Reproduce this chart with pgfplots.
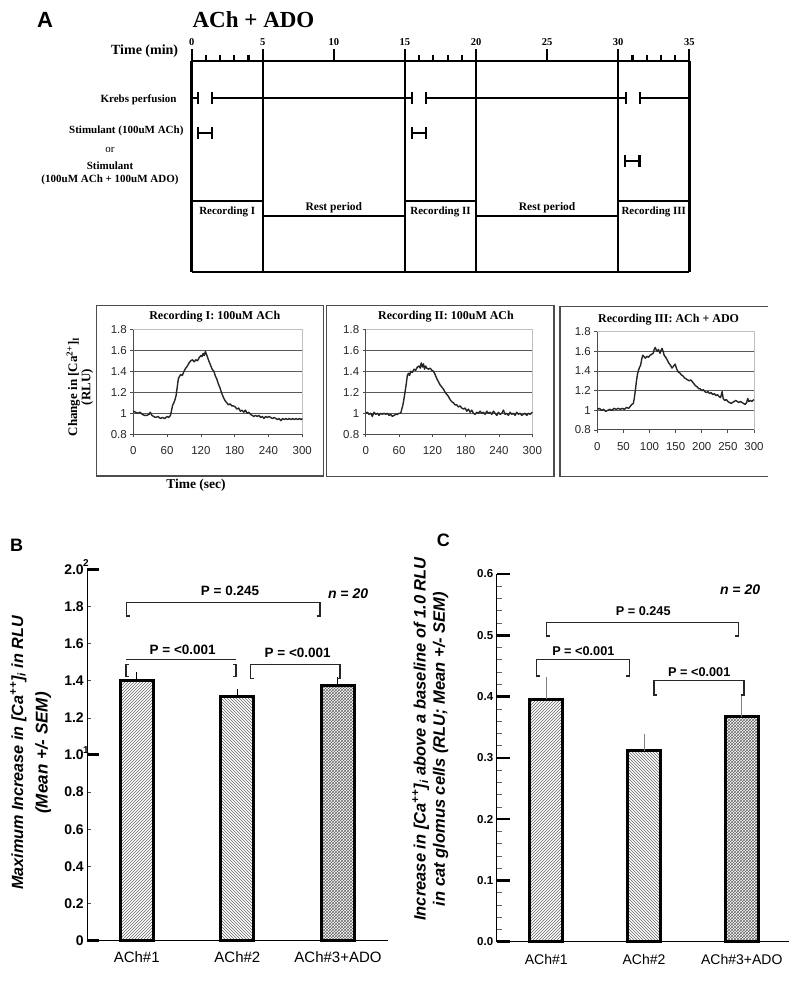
\documentclass[border=0pt]{standalone}
\usepackage{pgfplots}
\pgfplotsset{compat=1.18}
\usetikzlibrary{patterns}
\usepackage{fontspec}
\setmainfont{Liberation Sans}
\newfontfamily\tnr{Liberation Serif}
\newcommand\fs[1]{\fontsize{#1}{#1}\selectfont}

\pgfplotstableread{
t v
0 1.02
4 1.01
8 1.00
12 1.01
16 0.99
20 0.98
24 0.98
28 0.99
30 1.01
33 0.98
36 0.97
40 0.96
44 0.97
48 0.95
52 0.96
56 0.95
60 0.97
63 0.96
66 0.98
68 1.03
70 1.08
72 1.10
74 1.13
76 1.17
78 1.25
80 1.33
82 1.35
84 1.37
87 1.36
90 1.40
93 1.43
96 1.45
99 1.48
102 1.50
105 1.51
108 1.49
111 1.51
114 1.50
117 1.53
120 1.55
122 1.54
124 1.57
126 1.55
128 1.59
130 1.56
132 1.53
134 1.50
137 1.46
140 1.42
143 1.40
146 1.35
148 1.33
151 1.28
154 1.24
157 1.19
160 1.15
163 1.12
166 1.10
169 1.08
172 1.09
175 1.07
178 1.07
181 1.06
184 1.04
187 1.05
190 1.02
193 1.03
196 1.01
199 1.03
202 1.00
205 1.01
208 0.99
211 0.98
214 0.97
217 0.98
220 0.97
223 0.98
226 0.96
229 0.97
232 0.95
235 0.97
238 0.96
241 0.97
244 0.96
247 0.95
250 0.96
253 0.95
256 0.94
259 0.95
262 0.93
265 0.95
268 0.94
271 0.95
274 0.94
277 0.95
280 0.94
283 0.95
286 0.94
289 0.95
292 0.94
295 0.95
298 0.94
300 0.95
}\traceA

\pgfplotstableread{
t v
0 1.00
3 1.01
6 0.99
9 1.00
12 0.97
15 1.01
18 0.99
21 1.00
24 0.98
27 1.00
30 0.99
33 1.00
36 0.99
39 1.00
42 0.98
45 0.99
48 0.97
51 0.98
54 0.99
57 0.99
60 1.00
63 1.00
65 1.04
67 1.08
69 1.14
71 1.21
73 1.28
75 1.36
77 1.38
79 1.36
81 1.40
84 1.39
87 1.42
90 1.41
93 1.44
96 1.45
98 1.43
100 1.48
102 1.44
104 1.47
106 1.42
108 1.45
110 1.43
113 1.42
116 1.43
119 1.41
122 1.40
125 1.37
128 1.33
131 1.30
134 1.27
137 1.25
140 1.23
143 1.20
146 1.18
149 1.16
152 1.13
155 1.11
158 1.10
161 1.08
164 1.08
167 1.06
170 1.07
173 1.05
176 1.04
179 1.05
182 1.02
185 1.04
188 1.01
191 1.03
194 1.00
197 0.99
200 1.01
203 1.00
206 1.02
209 1.00
212 1.01
215 0.99
218 1.02
221 1.00
224 1.01
227 0.99
230 1.02
233 1.00
236 0.98
239 1.01
242 0.99
245 1.00
248 1.03
251 0.99
254 1.00
257 0.98
260 1.01
263 0.99
266 1.00
269 0.98
272 1.01
275 0.99
278 1.00
281 0.98
284 0.99
287 1.00
290 0.98
293 1.00
296 0.99
300 1.01
}\traceB

\pgfplotstableread{
t v
0 1.01
4 1.02
8 1.00
12 1.01
16 0.99
20 1.00
24 1.01
28 1.00
32 1.02
36 1.01
40 1.02
44 1.01
48 1.02
52 1.01
56 1.03
60 1.02
63 1.04
66 1.06
69 1.07
71 1.13
73 1.21
75 1.30
77 1.37
79 1.41
81 1.44
83 1.46
85 1.52
87 1.56
89 1.55
92 1.53
95 1.55
98 1.54
101 1.56
104 1.57
107 1.58
109 1.62
111 1.64
113 1.61
115 1.60
117 1.62
120 1.58
122 1.61
124 1.63
126 1.60
128 1.56
131 1.54
134 1.51
137 1.48
140 1.46
143 1.43
146 1.45
149 1.47
152 1.42
155 1.39
158 1.38
161 1.36
164 1.35
167 1.33
170 1.32
173 1.31
176 1.30
179 1.31
182 1.29
185 1.27
188 1.25
191 1.24
194 1.22
197 1.22
200 1.20
203 1.21
206 1.19
209 1.18
212 1.19
215 1.17
218 1.18
221 1.16
224 1.17
227 1.15
230 1.16
233 1.14
236 1.13
239 1.19
241 1.12
244 1.10
247 1.11
250 1.09
253 1.08
256 1.07
259 1.08
262 1.09
265 1.10
268 1.09
271 1.08
274 1.09
277 1.08
280 1.07
283 1.06
286 1.08
288 1.12
290 1.09
293 1.10
296 1.09
300 1.11
}\traceC

\pgfplotsset{
 rec/.style={scale only axis, xmin=0, xmax=300, ymin=0.8, ymax=1.8, clip=false,
  axis lines*=left, axis line style={black!70, line width=1pt},
  ytick={0.8,1,1.2,1.4,1.6,1.8}, yticklabels={0.8,1,1.2,1.4,1.6,1.8},
  tick align=outside, major tick length=3pt, tick style={black!70, line width=0.8pt},
  extra y ticks={1,1.2,1.4,1.6}, extra y tick labels={},
  extra y tick style={grid=major, major tick length=0pt},
  grid style={black!65, line width=1pt},
  ticklabel style={font=\fs{11.5}, text=black!85},
  xticklabel style={yshift=-6pt},
  /pgf/number format/assume math mode=true,
  title style={font=\tnr\bfseries\fs{12}, yshift=-2pt},
 },
 trace/.style={black!85, line width=1.4pt, line join=round, no marks},
}

\begin{document}
\begin{tikzpicture}[x=1pt,y=1pt]
\path[use as bounding box] (0,0) rectangle (800,981);

% ---------------- Panel A : protocol timeline ----------------
\node[font=\bfseries\fs{22}] at (45,961) {A};
\node[font=\tnr\bfseries\fs{23}] at (253.5,961) {ACh + ADO};
\node[font=\tnr\bfseries\fs{14}, anchor=east] at (181.7,930.3) {Time (min)};
\node[font=\tnr\bfseries\fs{11}, anchor=east] at (180,881) {Krebs perfusion};
\node[font=\tnr\bfseries\fs{11}, anchor=east] at (187,850) {Stimulant (100uM ACh)};
\node[font=\tnr\fs{11}] at (110,831) {or};
\node[font=\tnr\bfseries\fs{11}] at (110,815.3) {Stimulant};
\node[font=\tnr\bfseries\fs{11}] at (110,801) {(100uM ACh + 100uM ADO)};

\begin{axis}[at={(191.7pt,709pt)}, anchor=south west, scale only axis,
  width=497.6pt, height=211pt, xmin=0, xmax=35, ymin=0, ymax=211, clip=false,
  axis x line*=top, axis y line=none, axis line style={line width=2.5pt},
  xtick={0,5,10,15,20,25,30,35}, minor xtick={1,2,3,4,16,17,18,19,31,32,33,34},
  tick align=outside, major tick length=12pt, minor tick length=6pt,
  every tick/.style={black, line width=2.2pt},
  xticklabel style={font=\tnr\bfseries\fs{10.5}},
  /pgf/number format/assume math mode=true]
 \draw[line width=2.5pt] (axis cs:0,0) -- (axis cs:0,211);
 \draw[line width=2.5pt] (axis cs:5,0) -- (axis cs:5,211);
 \draw[line width=2.5pt] (axis cs:15,0) -- (axis cs:15,211);
 \draw[line width=2.5pt] (axis cs:20,0) -- (axis cs:20,211);
 \draw[line width=2.5pt] (axis cs:30,0) -- (axis cs:30,211);
 \draw[line width=2.5pt] (axis cs:35,0) -- (axis cs:35,211);
 \draw[line width=2.5pt] (axis cs:0,0) -- (axis cs:35,0);
 % Krebs perfusion
 \draw[line width=2pt] (axis cs:0,174.3) -- (axis cs:0.47,174.3);
 \draw[line width=2pt] (axis cs:1.45,174.3) -- (axis cs:15.47,174.3);
 \draw[line width=2pt] (axis cs:16.48,174.3) -- (axis cs:30.52,174.3);
 \draw[line width=2pt] (axis cs:31.53,174.3) -- (axis cs:35,174.3);
 \draw[line width=2.2pt] (axis cs:0.47,168.3) -- (axis cs:0.47,180.3);
 \draw[line width=2.2pt] (axis cs:1.45,168.3) -- (axis cs:1.45,180.3);
 \draw[line width=2.2pt] (axis cs:15.47,168.3) -- (axis cs:15.47,180.3);
 \draw[line width=2.2pt] (axis cs:16.48,168.3) -- (axis cs:16.48,180.3);
 \draw[line width=2.2pt] (axis cs:30.52,168.3) -- (axis cs:30.52,180.3);
 \draw[line width=2.2pt] (axis cs:31.53,168.3) -- (axis cs:31.53,180.3);
 % stimulant ACh
 \draw[line width=2.2pt] (axis cs:0.47,132.7) -- (axis cs:0.47,144.7) (axis cs:0.47,138.7) -- (axis cs:1.45,138.7) (axis cs:1.45,132.7) -- (axis cs:1.45,144.7);
 \draw[line width=2.2pt] (axis cs:15.5,132.7) -- (axis cs:15.5,144.7) (axis cs:15.5,138.7) -- (axis cs:16.5,138.7) (axis cs:16.5,132.7) -- (axis cs:16.5,144.7);
 % stimulant ACh + ADO
 \draw[line width=2.2pt] (axis cs:30.5,105) -- (axis cs:30.5,117) (axis cs:30.5,111) -- (axis cs:31.5,111) (axis cs:31.5,105) -- (axis cs:31.5,117);
 % recording / rest
 \draw[line width=1.8pt] (axis cs:0,71) -- (axis cs:5,71);
 \draw[line width=1.8pt] (axis cs:15,71) -- (axis cs:20,71);
 \draw[line width=1.8pt] (axis cs:30,71) -- (axis cs:35,71);
 \draw[line width=1.8pt] (axis cs:5,56) -- (axis cs:15,56);
 \draw[line width=1.8pt] (axis cs:20,56) -- (axis cs:30,56);
 \node[font=\tnr\bfseries\fs{11}] at (axis cs:2.5,60) {Recording I};
 \node[font=\tnr\bfseries\fs{11}] at (axis cs:17.5,60) {Recording II};
 \node[font=\tnr\bfseries\fs{11}] at (axis cs:32.5,60) {Recording III};
 \node[font=\tnr\bfseries\fs{11.5}] at (axis cs:10,64.7) {Rest period};
 \node[font=\tnr\bfseries\fs{11.5}] at (axis cs:25,64.7) {Rest period};
\end{axis}

% ---------------- Recording traces ----------------
\draw[black!70, line width=1.5pt] (96.7,505) rectangle (323.3,675.3);
\draw[black!70, line width=1.5pt] (326.7,504.3) rectangle (554,675.3);
\draw[black!70, line width=1.5pt] (768,674.3) -- (560,674.3) -- (560,504.3) -- (768,504.3);
\node[font=\tnr\bfseries\fs{13}, rotate=90] at (73.3,594) {Change in [Ca\textsuperscript{2+}]\textsubscript{I}};
\node[font=\tnr\bfseries\fs{13}, rotate=90] at (87.3,594) {(RLU)};
\node[font=\tnr\bfseries\fs{13.5}] at (196,496) {Time (sec)};

\begin{axis}[rec, at={(133.3pt,546.7pt)}, anchor=south west, width=169pt, height=105pt,
  xtick={0,60,120,180,240,300}, title={Recording I: 100uM ACh}, title style={xshift=-3pt}]
 \draw[black!25, line width=0.8pt] (rel axis cs:0,1) -- (rel axis cs:1,1) -- (rel axis cs:1,0);
 \addplot[trace] table[x=t,y=v] {\traceA};
\end{axis}

\begin{axis}[rec, at={(365.7pt,546.7pt)}, anchor=south west, width=166.6pt, height=105pt,
  xtick={0,60,120,180,240,300}, title={Recording II: 100uM ACh}, title style={xshift=-3pt}]
 \draw[black!25, line width=0.8pt] (rel axis cs:0,1) -- (rel axis cs:1,1) -- (rel axis cs:1,0);
 \addplot[trace] table[x=t,y=v] {\traceB};
\end{axis}

\begin{axis}[rec, at={(597.3pt,551pt)}, anchor=south west, width=156.7pt, height=98.3pt,
  xtick={0,50,100,150,200,250,300}, title={Recording III: ACh + ADO}, title style={xshift=-7pt, yshift=-1pt}]
 \draw[black!25, line width=0.8pt] (rel axis cs:0,1) -- (rel axis cs:1,1) -- (rel axis cs:1,0);
 \addplot[trace] table[x=t,y=v] {\traceC};
\end{axis}

% ---------------- Panel B ----------------
\node[font=\bfseries\fs{18}] at (16.7,436) {B};
\node[font=\bfseries\itshape\fs{16.2}, rotate=90] at (18.3,228) {Maximum Increase in [Ca\textsuperscript{++}]\textsubscript{i} in RLU};
\node[font=\bfseries\itshape\fs{17}, rotate=90] at (43.3,228) {(Mean +/- SEM)};
\node[font=\bfseries\fs{10}] at (86,418) {2};
\node[font=\bfseries\fs{10}] at (86,231) {1};

\begin{axis}[at={(87.3pt,40.3pt)}, anchor=south west, scale only axis,
  width=301pt, height=371.4pt, xmin=-0.491, xmax=2.5, ymin=0, ymax=2, clip=false,
  axis lines*=left, axis line style={black, line width=0.8pt},
  xtick={0,1,2}, xticklabels={ACh\#1,ACh\#2,ACh\#3+ADO}, xtick style={draw=none},
  xticklabel style={font=\fs{15}, yshift=-7pt},
  ytick={0,0.2,0.4,0.6,0.8,1.0,1.2,1.4,1.6,1.8,2.0},
  yticklabels={0,0.2,0.4,0.6,0.8,1.0,1.2,1.4,1.6,1.8,2.0},
  yticklabel style={font=\bfseries\fs{14}},
  tick align=inside, major tick length=4pt, ytick style={black!70, line width=0.6pt},
  extra y ticks={0,1,2}, extra y tick labels={},
  extra y tick style={major tick length=12pt, ytick style={black, line width=3pt}},
  /pgf/number format/assume math mode=true]
 \addplot[ybar, bar width=33pt, bar shift=0pt, draw=black, line width=3pt,
   pattern=north east lines, pattern color=black!60,
   error bars/.cd, y dir=plus, y explicit,
   error bar style={black, line width=1pt}, error mark options={mark size=3pt, line width=1pt}]
   coordinates {(0,1.400) +- (0,0.031)};
 \addplot[ybar, bar width=33pt, bar shift=0pt, draw=black, line width=3pt,
   pattern=north west lines, pattern color=black!60,
   error bars/.cd, y dir=plus, y explicit,
   error bar style={black, line width=1pt}, error mark options={mark size=3pt, line width=1pt}]
   coordinates {(1,1.314) +- (0,0.024)};
 \addplot[ybar, bar width=33pt, bar shift=0pt, draw=black, line width=3pt,
   pattern=crosshatch, pattern color=black!60,
   error bars/.cd, y dir=plus, y explicit,
   error bar style={black, line width=1pt}, error mark options={mark size=3pt, line width=1pt}]
   coordinates {(2,1.372) +- (0,0.030)};
 % brackets
 \draw[black!85, line width=1.3pt] (axis cs:-0.07,1.748) -- (axis cs:-0.099,1.748) -- (axis cs:-0.099,1.820) -- (axis cs:1.821,1.820) -- (axis cs:1.821,1.748) -- (axis cs:1.79,1.748);
 \node[font=\bfseries\fs{13.5}] at (axis cs:0.927,1.885) {P = 0.245};
 \draw[black!85, line width=1.3pt] (axis cs:-0.106,1.515) -- (axis cs:0.987,1.515);
 \draw[black!85, line width=1.3pt] (axis cs:-0.076,1.488) -- (axis cs:-0.106,1.488) -- (axis cs:-0.106,1.424) -- (axis cs:-0.076,1.424);
 \draw[black!85, line width=1.3pt] (axis cs:0.957,1.488) -- (axis cs:0.987,1.488) -- (axis cs:0.987,1.424) -- (axis cs:0.957,1.424);
 \node[font=\bfseries\fs{13.5}] at (axis cs:0.457,1.564) {P = <0.001};
 \draw[black!85, line width=1.3pt] (axis cs:1.163,1.413) -- (axis cs:1.133,1.413) -- (axis cs:1.133,1.488) -- (axis cs:2.020,1.488) -- (axis cs:2.020,1.413) -- (axis cs:1.99,1.413);
 \node[font=\bfseries\fs{13.5}] at (axis cs:1.6,1.551) {P = <0.001};
 \node[font=\bfseries\itshape\fs{14}] at (axis cs:2.10,1.871) {n = 20};
\end{axis}

% ---------------- Panel C ----------------
\node[font=\bfseries\fs{18}] at (443.3,441) {C};
\node[font=\bfseries\itshape\fs{16.5}, rotate=90] at (420.7,242) {Increase in [Ca\textsuperscript{++}]\textsubscript{i} above a baseline of 1.0 RLU};
\node[font=\bfseries\itshape\fs{16.5}, rotate=90] at (440.7,232) {in cat glomus cells (RLU; Mean +/- SEM)};

\begin{axis}[at={(496.7pt,39.3pt)}, anchor=south west, scale only axis,
  width=292.6pt, height=367.7pt, xmin=-0.507, xmax=2.486, ymin=0, ymax=0.6, clip=false,
  axis lines*=left, axis line style={black, line width=1pt},
  xtick={0,1,2}, xticklabels={ACh\#1,ACh\#2,ACh\#3+ADO}, xtick style={draw=none},
  xticklabel style={font=\fs{14}, yshift=-9pt},
  ytick={0,0.1,0.2,0.3,0.4,0.5,0.6},
  yticklabels={0.0,0.1,0.2,0.3,0.4,0.5,0.6},
  yticklabel style={font=\bfseries\fs{11.5}},
  minor y tick num=4,
  tick align=inside, major tick length=13pt, minor tick length=5pt,
  every major y tick/.append style={black, line width=2.5pt},
  every minor y tick/.append style={black!60, line width=0.6pt},
  /pgf/number format/assume math mode=true]
 \addplot[ybar, bar width=33pt, bar shift=0pt, draw=black, line width=3pt,
   pattern=north east lines, pattern color=black!60,
   error bars/.cd, y dir=plus, y explicit,
   error bar style={black!50, line width=1pt}, error mark options={mark size=3pt, line width=1pt}]
   coordinates {(0,0.3955) +- (0,0.0315)};
 \addplot[ybar, bar width=33pt, bar shift=0pt, draw=black, line width=3pt,
   pattern=north west lines, pattern color=black!60,
   error bars/.cd, y dir=plus, y explicit,
   error bar style={black!50, line width=1pt}, error mark options={mark size=3pt, line width=1pt}]
   coordinates {(1,0.3117) +- (0,0.0219)};
 \addplot[ybar, bar width=33pt, bar shift=0pt, draw=black, line width=3pt,
   pattern=crosshatch, pattern color=black!60,
   error bars/.cd, y dir=plus, y explicit,
   error bar style={black!50, line width=1pt}, error mark options={mark size=3pt, line width=1pt}]
   coordinates {(2,0.367) +- (0,0.0285)};
 % brackets
 \draw[black!85, line width=1.3pt] (axis cs:0.034,0.4989) -- (axis cs:0.004,0.4989) -- (axis cs:0.004,0.5206) -- (axis cs:1.964,0.5206) -- (axis cs:1.964,0.4989) -- (axis cs:1.934,0.4989);
 \node[font=\bfseries\fs{12.7}] at (axis cs:0.992,0.540) {P = 0.245};
 \draw[black!85, line width=1.3pt] (axis cs:-0.068,0.4336) -- (axis cs:-0.098,0.4336) -- (axis cs:-0.098,0.4608) -- (axis cs:0.849,0.4608) -- (axis cs:0.849,0.4336) -- (axis cs:0.819,0.4336);
 \node[font=\bfseries\fs{12.7}] at (axis cs:0.379,0.4749) {P = <0.001};
 \draw[black!85, line width=1.3pt] (axis cs:1.132,0.4026) -- (axis cs:1.102,0.4026) -- (axis cs:1.102,0.4259) -- (axis cs:2.022,0.4259) -- (axis cs:2.022,0.4026) -- (axis cs:1.992,0.4026);
 \node[font=\bfseries\fs{12.7}] at (axis cs:1.565,0.4406) {P = <0.001};
 \node[font=\bfseries\itshape\fs{14}] at (axis cs:1.982,0.574) {n = 20};
\end{axis}
\end{tikzpicture}
\end{document}
